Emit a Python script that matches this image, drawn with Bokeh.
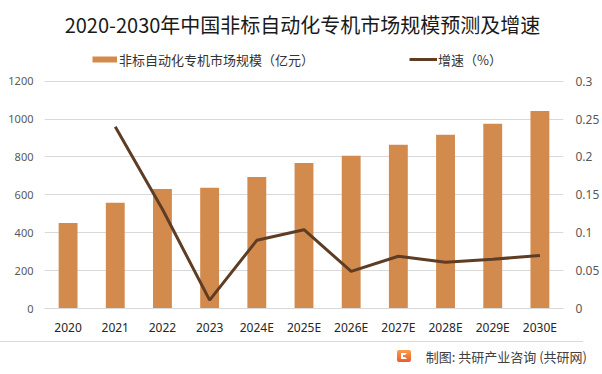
from bokeh.plotting import figure
from bokeh.layouts import column
from bokeh.models import (Range1d, LinearAxis, FixedTicker, Label, Legend,
                          LegendItem, ColumnDataSource, Div)
from bokeh.embed import file_html
from bokeh.resources import INLINE

# ---------------- data ----------------
years = ["2020", "2021", "2022", "2023", "2024E", "2025E", "2026E",
         "2027E", "2028E", "2029E", "2030E"]
market_size = [452, 558, 631, 637, 695, 768, 807, 865, 917, 975, 1043]
growth_years = ["2021", "2022", "2023", "2024E", "2025E", "2026E",
                "2027E", "2028E", "2029E", "2030E"]
growth = [0.240, 0.131, 0.011, 0.090, 0.104, 0.049, 0.069, 0.061, 0.065, 0.070]

left_ticks = [0, 200, 400, 600, 800, 1000, 1200]
right_ticks = [0, 0.05, 0.1, 0.15, 0.2, 0.25, 0.3]
right_tick_labels = ["0", "0.05", "0.1", "0.15", "0.2", "0.25", "0.3"]

title_text = "2020-2030年中国非标自动化专机市场规模预测及增速"
bar_label = "非标自动化专机市场规模（亿元）"
line_label = "增速（%）"
source_text = "制图: 共研产业咨询 (共研网)"

BAR_COLOR = "#D38B4D"
LINE_COLOR = "#5E3D24"
GRID_COLOR = "#D9D9D9"
CJK = "Noto Sans CJK SC"

# layout constants (pixels)
FIG_W, FIG_H = 602, 338
FOOT_H = 36
FRAME_H = 309          # frame spans canvas y 0..309 (title/legend live inside)
PLOT_H = 228           # height of the 0..1200 band
L_MAX = left_ticks[-1] * FRAME_H / PLOT_H
R_MAX = right_ticks[-1] * FRAME_H / PLOT_H

# ---------------- figure ----------------
p = figure(x_range=years, y_range=Range1d(0, L_MAX),
           width=FIG_W, height=FIG_H, output_backend="svg", toolbar_location=None,
           min_border_left=44, min_border_right=39,
           min_border_top=0, min_border_bottom=FIG_H - FRAME_H)
p.extra_y_ranges = {"growth": Range1d(0, R_MAX)}
p.outline_line_color = None
p.background_fill_color = "white"
p.border_fill_color = "white"

bar_src = ColumnDataSource(dict(x=years, y=market_size))
line_src = ColumnDataSource(dict(x=growth_years, y=growth))

bars = p.vbar(x="x", top="y", width=0.4, source=bar_src,
              fill_color=BAR_COLOR, line_color=None)
line = p.line(x="x", y="y", source=line_src, y_range_name="growth",
              line_color=LINE_COLOR, line_width=3)
# legend key for the bar series: a thick horizontal swatch like the original
# (a one-point line draws nothing in the plot area)
bar_key = p.line(x=years[:1], y=[0], line_color=BAR_COLOR, line_width=6)

# axes
p.xgrid.grid_line_color = None
p.ygrid.grid_line_color = GRID_COLOR
p.ygrid.ticker = FixedTicker(ticks=left_ticks[1:])

yl = p.yaxis[0]
yl.ticker = FixedTicker(ticks=left_ticks)
yl.axis_line_color = None
yl.major_tick_out = 0
yl.major_tick_in = 0
yl.minor_tick_out = 0
yl.minor_tick_in = 0
yl.major_label_standoff = 11
yl.major_label_text_font = "Noto Sans"
yl.major_label_text_font_size = "11px"
yl.major_label_text_color = "#595959"

yr = LinearAxis(y_range_name="growth", ticker=FixedTicker(ticks=right_ticks),
                major_label_overrides=dict(zip(right_ticks, right_tick_labels)))
yr.axis_line_color = None
yr.major_tick_out = 0
yr.major_tick_in = 0
yr.minor_tick_out = 0
yr.minor_tick_in = 0
yr.major_label_standoff = 12
yr.major_label_text_font = "Noto Sans"
yr.major_label_text_font_size = "12px"
yr.major_label_text_color = "#595959"
p.add_layout(yr, "right")

xa = p.xaxis[0]
xa.axis_line_color = GRID_COLOR
xa.major_tick_out = 0
xa.major_tick_in = 0
xa.minor_tick_out = 0
xa.minor_tick_in = 0
xa.major_label_standoff = 10
xa.major_label_text_font = "Noto Sans"
xa.major_label_text_font_size = "12px"
xa.major_label_text_color = "#262626"

# legends (inside the frame, above the plotting band)
common = dict(orientation="horizontal", glyph_height=20, label_height=20,
              padding=0, margin=0, border_line_color=None,
              background_fill_alpha=0, label_text_font=CJK,
              label_text_font_size="13px", label_text_color="#333333")
leg1 = Legend(items=[LegendItem(label=bar_label, renderers=[bar_key])],
              location=(48, 239), glyph_width=25, label_standoff=2, **common)
leg2 = Legend(items=[LegendItem(label=line_label, renderers=[line])],
              location=(365, 239), glyph_width=28, label_standoff=1, **common)
p.add_layout(leg1)
p.add_layout(leg2)

# title (inside the frame)
p.add_layout(Label(x=258, y=FRAME_H - 25, x_units="screen", y_units="screen",
                   text=title_text, text_align="center", text_baseline="middle",
                   text_font=CJK, text_font_size="20px", text_color="#1a1a1a"))

# footer: separator line, logo and source text
footer_html = f"""
<div style="position:relative;width:{FIG_W}px;height:{FOOT_H}px;">
  <div style="position:absolute;left:0px;top:3px;width:583px;height:0;border-top:1px solid {GRID_COLOR};"></div>
  <div style="position:absolute;left:397px;top:12px;width:14px;height:12px;border-radius:2px;
              background:linear-gradient(180deg,#F6A04D,#EC5B2E);">
    <div style="position:absolute;left:4px;top:3px;width:6px;height:6px;border:2px solid #fff;border-right-color:transparent;box-sizing:border-box;"></div>
  </div>
  <div style="position:absolute;right:15px;top:11px;font-family:'{CJK}';font-size:13px;
              line-height:16px;color:#404040;white-space:nowrap;">{source_text}</div>
</div>"""
footer = Div(text=footer_html, width=FIG_W, height=FOOT_H, margin=0)

layout = column(p, footer, spacing=0)
open("out.html", "w").write(file_html(layout, INLINE))
